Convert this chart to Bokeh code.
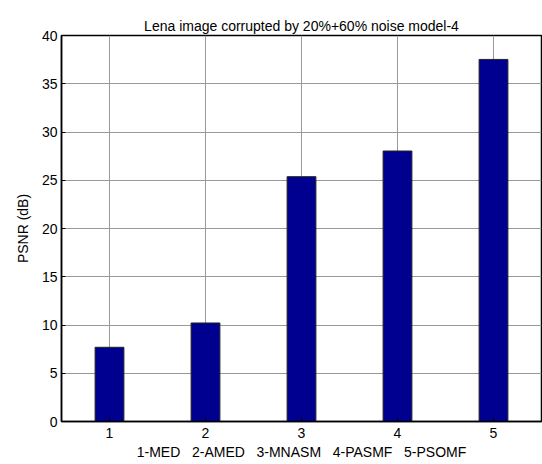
from bokeh.plotting import figure
from bokeh.models import FixedTicker, Range1d, ColumnDataSource
from bokeh.embed import file_html
from bokeh.resources import INLINE

# data
methods = [1, 2, 3, 4, 5]
psnr = [7.69, 10.21, 25.37, 28.03, 37.52]
y_ticks = [0, 5, 10, 15, 20, 25, 30, 35, 40]
title = "Lena image corrupted by 20%+60% noise model-4"
x_label = "\u00a0\u00a0\u00a0".join(["1-MED", "2-AMED", "3-MNASM", "4-PASMF", "5-PSOMF"])
y_label = "PSNR (dB)"

FONT = "Liberation Sans"
FS = "14px"

src = ColumnDataSource(dict(x=methods, top=psnr))

p = figure(width=542, height=464, output_backend="svg", toolbar_location=None,
           x_range=Range1d(0.5, 5.5), y_range=Range1d(0, 40),
           min_border_left=61, min_border_right=1, min_border_top=35, min_border_bottom=43)

p.vbar(x="x", top="top", width=0.3, source=src, fill_color="#000090",
       line_color="#222222", line_width=1)

p.title.text = title
p.title.align = "center"
p.title.text_font = FONT
p.title.text_font_size = FS
p.title.text_font_style = "normal"
p.title.text_color = "black"
p.title.standoff = 4

p.xaxis.ticker = FixedTicker(ticks=methods)
p.yaxis.ticker = FixedTicker(ticks=y_ticks)
p.xaxis.axis_label = x_label
p.yaxis.axis_label = y_label
for ax in (p.xaxis, p.yaxis):
    ax.axis_label_text_font = FONT
    ax.axis_label_text_font_size = FS
    ax.axis_label_text_font_style = "normal"
    ax.axis_label_text_color = "black"
    ax.major_label_text_font = FONT
    ax.major_label_text_font_size = FS
    ax.major_label_text_color = "black"
    ax.major_tick_in = 4
    ax.major_tick_out = 0
    ax.minor_tick_line_color = None
    ax.axis_line_color = "black"
    ax.axis_line_width = 1.5
    ax.major_tick_line_color = "black"
p.xaxis.major_label_standoff = 6
p.xaxis.axis_label_standoff = 3
p.yaxis.major_label_standoff = 4
p.yaxis.axis_label_standoff = 8

p.grid.grid_line_color = "#999999"
p.grid.grid_line_width = 1
p.outline_line_color = "black"
p.outline_line_width = 1.5
p.background_fill_color = "white"
p.border_fill_color = "white"

open("out.html", "w").write(file_html(p, INLINE))
